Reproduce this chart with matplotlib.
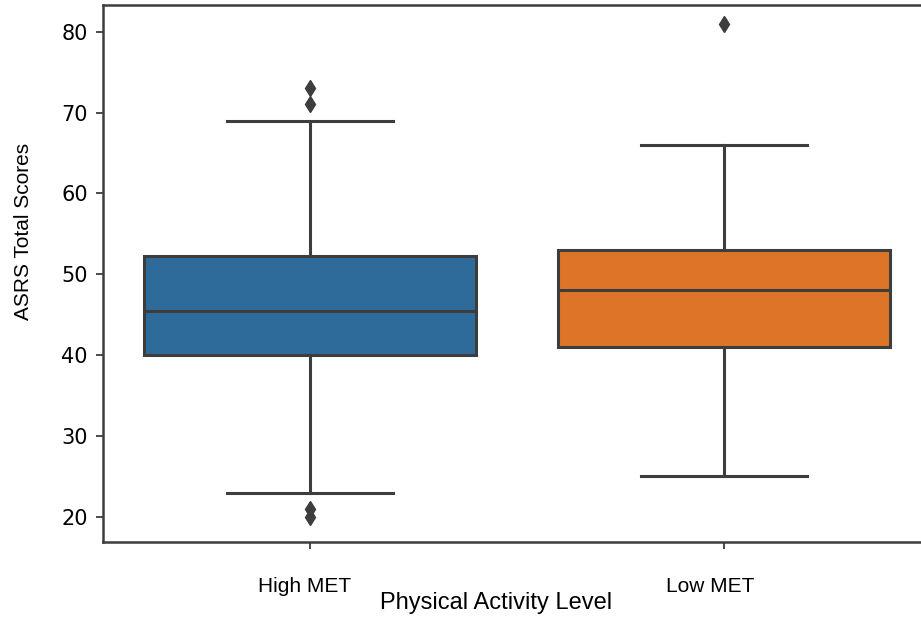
import matplotlib
matplotlib.use("Agg")
import matplotlib.pyplot as plt
import matplotlib.transforms as mtransforms

# ASRS total score summaries per activity group
groups = ["High MET", "Low MET"]
q1 = [40.0, 41.0]
median = [45.5, 48.0]
q3 = [52.3, 53.0]
whisk_lo = [23.0, 25.0]
whisk_hi = [69.0, 66.0]
outliers = [[73.0, 71.0, 21.0, 20.0], [81.0]]
colors = ["#2f6b9a", "#dd7528"]

stats = []
for i, g in enumerate(groups):
    stats.append({
        "label": g,
        "q1": q1[i], "med": median[i], "q3": q3[i],
        "whislo": whisk_lo[i], "whishi": whisk_hi[i],
        "fliers": outliers[i],
    })

line_c = "#3d3d3d"
fig = plt.figure(figsize=(9.21, 6.18), dpi=100)
ax = fig.add_axes([103 / 921, 76 / 618, 828 / 921, 537 / 618])

bp = ax.bxp(stats, positions=[0, 1], widths=0.8, patch_artist=True,
            boxprops=dict(edgecolor=line_c, linewidth=2.2),
            medianprops=dict(color=line_c, linewidth=2.2),
            whiskerprops=dict(color=line_c, linewidth=2.2),
            capprops=dict(color=line_c, linewidth=2.2),
            flierprops=dict(marker="d", markersize=8.5, markerfacecolor=line_c,
                            markeredgecolor=line_c))
for patch, c in zip(bp["boxes"], colors):
    patch.set_facecolor(c)

ax.set_xlim(-0.5, 1.5)
ax.set_ylim(16.9, 83.3)
ax.set_yticks([20, 30, 40, 50, 60, 70, 80])
ax.tick_params(axis="y", labelsize=15, length=5, width=1.3, color=line_c, pad=6)
ax.tick_params(axis="x", length=5, width=1.3, color=line_c, pad=20)
ax.set_xticks([0, 1])
ax.set_xticklabels(groups, fontsize=15, family="Liberation Sans")
for lab, dx in zip(ax.get_xticklabels(), [-5, -14]):
    lab.set_transform(lab.get_transform() +
                      mtransforms.ScaledTranslation(dx / 100, 0, fig.dpi_scale_trans))
for s in ax.spines.values():
    s.set_linewidth(1.8)
    s.set_color(line_c)

ax.set_xlabel("Physical Activity Level", fontsize=17, family="Liberation Sans")
ax.xaxis.set_label_coords(393 / 828, -50 / 537)
ax.set_ylabel("ASRS Total Scores", fontsize=15, family="Liberation Sans")
ax.yaxis.set_label_coords(-70 / 828, 311 / 537)

fig.savefig("out.png", dpi=100)
